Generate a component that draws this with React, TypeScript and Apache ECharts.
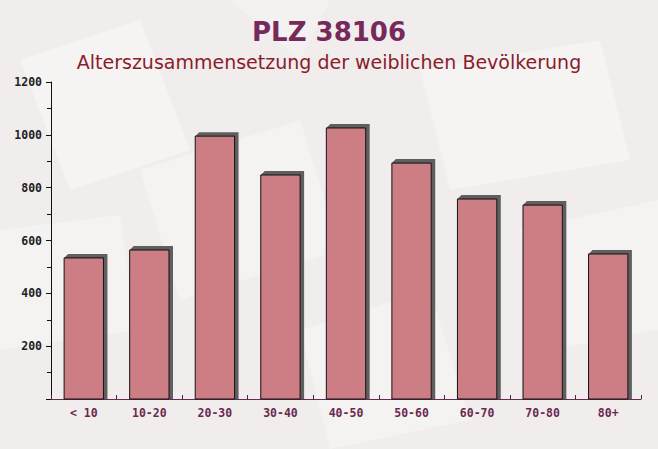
import React, { useEffect, useRef } from "react";
import * as echarts from "echarts";

const categories = ["< 10", "10-20", "20-30", "30-40", "40-50", "50-60", "60-70", "70-80", "80+"];
const values = [534, 564, 995, 848, 1026, 893, 757, 734, 549];
const yTicks = [0, 200, 400, 600, 800, 1000, 1200];

const titleText = "PLZ 38106";
const subtitleText = "Alterszusammensetzung der weiblichen Bevölkerung";

export default function App() {
  const ref = useRef<HTMLDivElement>(null);
  useEffect(() => {
    if (!ref.current) return;
    const chart = echarts.init(ref.current, undefined, { renderer: "svg" });
    const depth = 4;
    const option: any = {
      animation: false,
      backgroundColor: "#f1eded",
      graphic: [
        { type: "polygon", silent: true, z: -10, shape: { points: [[20, 60], [140, 20], [190, 150], [70, 190]] }, style: { fill: "rgba(255,255,255,0.35)" } },
        { type: "polygon", silent: true, z: -10, shape: { points: [[420, 70], [600, 40], [630, 160], [450, 190]] }, style: { fill: "rgba(255,255,255,0.35)" } },
        { type: "polygon", silent: true, z: -10, shape: { points: [[140, 170], [300, 120], [340, 250], [180, 300]] }, style: { fill: "rgba(255,255,255,0.3)" } },
        { type: "polygon", silent: true, z: -10, shape: { points: [[300, 330], [430, 290], [470, 420], [330, 449]] }, style: { fill: "rgba(255,255,255,0.3)" } },
        { type: "polygon", silent: true, z: -10, shape: { points: [[0, 230], [120, 215], [135, 330], [0, 350]] }, style: { fill: "rgba(255,255,255,0.3)" } },
        { type: "polygon", silent: true, z: -10, shape: { points: [[520, 230], [658, 200], [658, 330], [550, 350]] }, style: { fill: "rgba(255,255,255,0.3)" } },
        { type: "polygon", silent: true, z: -10, shape: { points: [[230, 0], [330, 0], [300, 60]] }, style: { fill: "rgba(255,255,255,0.25)" } },
      ],
      title: [
        {
          text: titleText,
          left: "center",
          top: 14,
          textStyle: { fontFamily: "DejaVu Sans", fontWeight: "bold", fontSize: 26, color: "#76295a" },
        },
        {
          text: subtitleText,
          left: "center",
          top: 47,
          textStyle: { fontFamily: "DejaVu Sans", fontWeight: "normal", fontSize: 19, color: "#8a1c2c" },
        },
      ],
      grid: { left: 51, right: 17, top: 82, bottom: 50, containLabel: false },
      xAxis: {
        type: "category",
        data: categories,
        axisLine: { show: true, lineStyle: { color: "#6a2a50", width: 1 } },
        axisTick: { show: true, inside: true, length: 4, lineStyle: { color: "#333" } },
        axisLabel: {
          margin: 8,
          fontFamily: "DejaVu Sans Mono",
          fontWeight: "bold",
          fontSize: 11.5,
          color: "#6a2a50",
        },
      },
      yAxis: {
        type: "value",
        min: yTicks[0],
        max: yTicks[yTicks.length - 1],
        interval: 200,
        axisLine: { show: true, lineStyle: { color: "#111", width: 1 } },
        axisTick: { show: true, length: 5, lineStyle: { color: "#111" } },
        minorTick: { show: true, splitNumber: 2, length: 4, lineStyle: { color: "#111" } },
        splitLine: { show: false },
        axisLabel: {
          margin: 9,
          fontFamily: "DejaVu Sans Mono",
          fontWeight: "bold",
          fontSize: 11.5,
          color: "#222",
          formatter: (v: number) => (v === 0 ? "" : String(v)),
        },
      },
      series: [
        {
          type: "custom",
          data: values.map((v, i) => [i, v]),
          encode: { x: 0, y: 1 },
          renderItem: (params: any, api: any) => {
            const idx = api.value(0);
            const val = api.value(1);
            const top = api.coord([idx, val]);
            const base = api.coord([idx, 0]);
            const bw = api.size([1, 0])[0] * 0.6;
            const x0 = top[0] - bw / 2;
            const x1 = top[0] + bw / 2;
            const yT = top[1];
            const yB = base[1];
            return {
              type: "group",
              children: [
                {
                  type: "polygon",
                  shape: {
                    points: [
                      [x0, yT],
                      [x0 + depth, yT - depth],
                      [x1 + depth, yT - depth],
                      [x1 + depth, yB],
                      [x1, yB],
                      [x1, yT],
                    ],
                  },
                  style: { fill: "#5f5f5f" },
                },
                {
                  type: "rect",
                  shape: { x: x0, y: yT, width: bw, height: yB - yT },
                  style: { fill: "rgba(196,100,108,0.82)", stroke: "#111", lineWidth: 1 },
                },
              ],
            };
          },
        },
      ],
    };
    chart.setOption(option);
    return () => chart.dispose();
  }, []);
  return <div ref={ref} style={{ width: 658, height: 449, position: "absolute", left: 0, top: 0 }} />;
}
